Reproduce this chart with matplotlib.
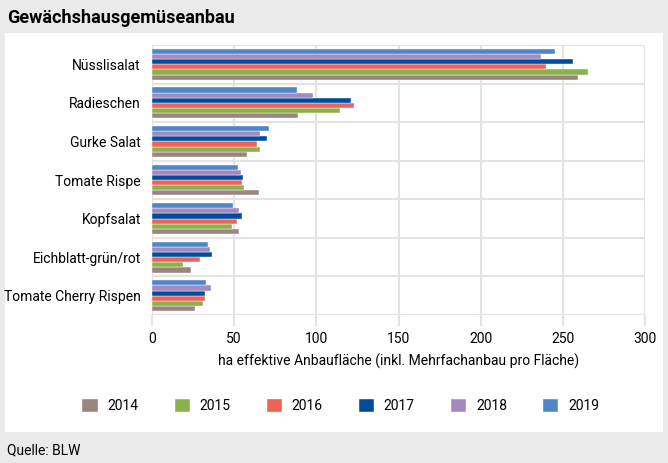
import numpy as np
import matplotlib.pyplot as plt
from matplotlib.patches import Rectangle

plt.rcParams['font.family'] = ['Roboto', 'DejaVu Sans']

categories = ['Nüsslisalat', 'Radieschen', 'Gurke Salat', 'Tomate Rispe',
              'Kopfsalat', 'Eichblatt-grün/rot', 'Tomate Cherry Rispen']
years = ['2014', '2015', '2016', '2017', '2018', '2019']

# ha per year, same order as categories
v2014 = [259, 89, 58, 65, 53, 24, 26]
v2015 = [265.5, 114.5, 66, 56, 48.5, 19, 31]
v2016 = [240, 123, 64, 55, 51.5, 29, 32]
v2017 = [256, 121, 70, 55.5, 54.5, 36.5, 32]
v2018 = [237, 98, 65.5, 54, 53, 35, 36]
v2019 = [245, 88.5, 71.5, 52.5, 49.5, 34, 33]
values = [v2014, v2015, v2016, v2017, v2018, v2019]

colors = ['#9a8580', '#8cb14a', '#ee6358', '#004c9d', '#a389bf', '#4d87c8']

xticks = [0, 50, 100, 150, 200, 250, 300]
xlabel = 'ha effektive Anbaufläche (inkl. Mehrfachanbau pro Fläche)'

W, H = 668, 463
fig = plt.figure(figsize=(W / 100, H / 100), dpi=100)
fig.patch.set_facecolor('#e9eae9')

# white panel behind the chart
fig.patches.append(Rectangle((5 / W, 1 - 432 / H), 658 / W, 399 / H,
                             transform=fig.transFigure, facecolor='white',
                             edgecolor='none', zorder=-5))

fig.text(7 / W, 1 - 18 / H, 'Gewächshausgemüseanbau', fontsize=13,
         fontweight='bold', va='center', ha='left')
fig.text(7 / W, 1 - 450 / H, 'Quelle: BLW', fontsize=10,
         va='center', ha='left')

ax = fig.add_axes([152 / W, 1 - 315 / H, 493 / W, 270 / H])
ax.set_facecolor('white')

n = len(categories)
y = np.arange(n)
bh = 0.133
for i, (yr, vals) in enumerate(zip(years, values)):
    off = (2.5 - i) * bh
    ax.barh(y + off, vals, height=bh, color=colors[i], label=yr,
            edgecolor='white', linewidth=0.3, zorder=3)

ax.set_xlim(0, 300)
ax.set_ylim(n - 0.5, -0.5)
ax.set_xticks(xticks)
ax.set_yticks(y)
ax.set_yticklabels(categories, fontsize=10)
ax.set_yticks(np.arange(-0.5, n, 1), minor=True)
ax.tick_params(axis='y', which='both', length=0, pad=8)
ax.tick_params(axis='x', length=8, color='#e3e3e3', width=1.5,
               labelsize=10, pad=4)
ax.grid(axis='x', color='#e3e3e3', linewidth=1.5, zorder=0)
ax.grid(axis='y', which='minor', color='#e3e3e3', linewidth=1.5, zorder=0)
for s in ax.spines.values():
    s.set_visible(False)
ax.set_xlabel(xlabel, fontsize=10, labelpad=6)

handles, labels = ax.get_legend_handles_labels()
fig.legend(handles, labels, loc='center', ncol=6,
           bbox_to_anchor=(0.51, 1 - 406 / H), frameon=False, fontsize=10,
           handlelength=1.1, handleheight=1.1, handletextpad=0.7,
           columnspacing=2.6)

fig.savefig('out.png', dpi=100, facecolor=fig.get_facecolor())
